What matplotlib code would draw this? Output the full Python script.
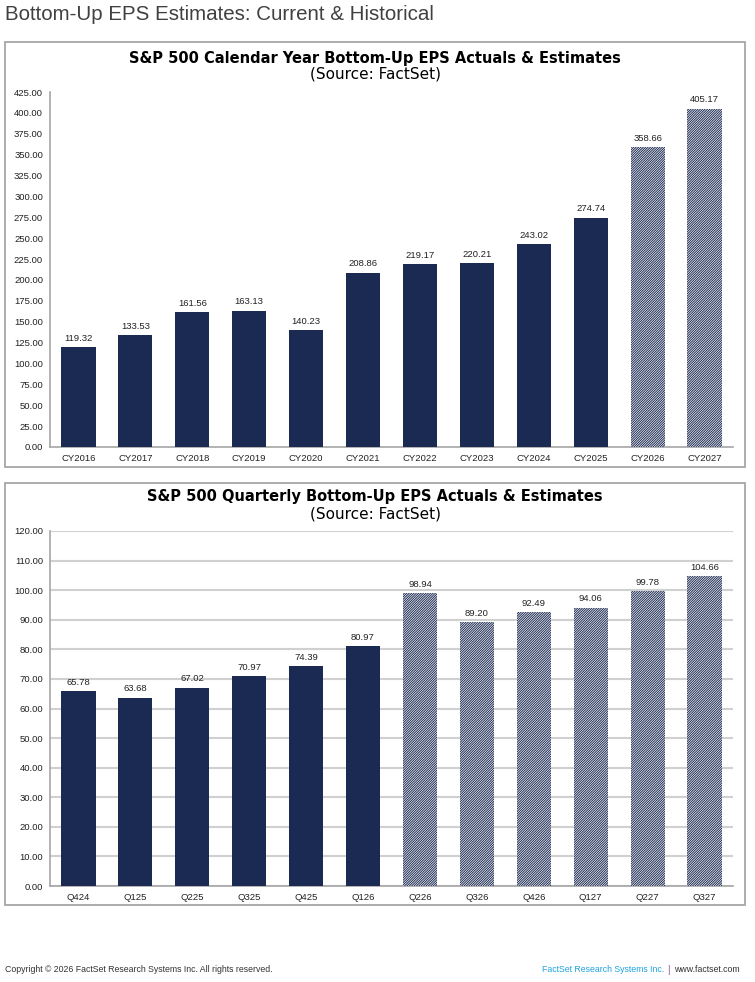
import numpy as np
import matplotlib
matplotlib.use('Agg')
import matplotlib.pyplot as plt
from matplotlib.patches import Rectangle

plt.rcParams['font.family'] = ['Liberation Sans', 'DejaVu Sans']
plt.rcParams['hatch.linewidth'] = 0.7

# annual data
cy_labels = ['CY2016', 'CY2017', 'CY2018', 'CY2019', 'CY2020', 'CY2021',
             'CY2022', 'CY2023', 'CY2024', 'CY2025', 'CY2026', 'CY2027']
cy_eps = [119.32, 133.53, 161.56, 163.13, 140.23, 208.86,
          219.17, 220.21, 243.02, 274.74, 358.66, 405.17]
cy_estimate = [False] * 10 + [True] * 2

# quarterly data
q_labels = ['Q424', 'Q125', 'Q225', 'Q325', 'Q425', 'Q126',
            'Q226', 'Q326', 'Q426', 'Q127', 'Q227', 'Q327']
q_eps = [65.78, 63.68, 67.02, 70.97, 74.39, 80.97,
         98.94, 89.20, 92.49, 94.06, 99.78, 104.66]
q_estimate = [False] * 6 + [True] * 6

navy = '#1b2a52'
gray = '#a6a6a6'

W, H = 755, 982
fig = plt.figure(figsize=(W / 100, H / 100), dpi=100)


def fx(px):
    return px / W


def fy(py):
    return 1 - py / H


def draw(ax, labels, vals, est, ymax, step, grid):
    x = np.arange(len(vals))
    for i in x:
        if est[i]:
            ax.bar(i, vals[i], width=0.6, color='white', edgecolor=navy,
                   hatch='/' * 14, linewidth=0, zorder=3)
        else:
            ax.bar(i, vals[i], width=0.6, color=navy, linewidth=0, zorder=3)
        ax.text(i, vals[i] + ymax * 0.012, '%.2f' % vals[i], ha='center',
                va='bottom', fontsize=6.8, color='#222222')
    ax.set_xlim(-0.5, len(vals) - 0.5)
    ax.set_ylim(0, ymax)
    ticks = np.arange(0, ymax + 0.001, step)
    ax.set_yticks(ticks)
    ax.set_yticklabels(['%.2f' % v for v in ticks])
    ax.set_xticks(x)
    ax.set_xticklabels(labels)
    ax.tick_params(length=0, labelsize=6.8, colors='#222222', pad=5)
    for s in ['top', 'right']:
        ax.spines[s].set_visible(False)
    for s in ['left', 'bottom']:
        ax.spines[s].set_color(gray)
        ax.spines[s].set_linewidth(1.2)
    if grid:
        ax.yaxis.grid(True, color='#d0d0d0', linewidth=1.5)
        ax.set_axisbelow(True)


# page title
fig.text(fx(5), fy(15), 'Bottom-Up EPS Estimates: Current & Historical',
         fontsize=14.8, color='#404040', ha='left', va='center')

# panel boxes
for top, bot in [(42, 467), (483, 905)]:
    fig.patches.append(Rectangle((fx(5), fy(bot)), fx(745) - fx(5), fy(top) - fy(bot),
                                 transform=fig.transFigure, fill=False,
                                 edgecolor=gray, linewidth=1.3))

title_font = ['DejaVu Sans']

ax1 = fig.add_axes([fx(50), fy(447), fx(733) - fx(50), fy(92) - fy(447)])
draw(ax1, cy_labels, cy_eps, cy_estimate, 425, 25, False)
fig.text(fx(375), fy(58), 'S&P 500 Calendar Year Bottom-Up EPS Actuals & Estimates',
         ha='center', va='center', fontsize=10.5, fontweight='bold', family=title_font)
fig.text(fx(375), fy(74), '(Source: FactSet)', ha='center', va='center',
         fontsize=11, family=title_font)

ax2 = fig.add_axes([fx(50), fy(886), fx(733) - fx(50), fy(531) - fy(886)])
draw(ax2, q_labels, q_eps, q_estimate, 120, 10, True)
fig.text(fx(375), fy(497), 'S&P 500 Quarterly Bottom-Up EPS Actuals & Estimates',
         ha='center', va='center', fontsize=10.5, fontweight='bold', family=title_font)
fig.text(fx(375), fy(514), '(Source: FactSet)', ha='center', va='center',
         fontsize=11, family=title_font)

# footer
fig.text(fx(5), fy(970), 'Copyright \u00a9 2026 FactSet Research Systems Inc. All rights reserved.',
         fontsize=6.3, color='#333333', ha='left', va='center')
fig.text(fx(664), fy(970), 'FactSet Research Systems Inc.', fontsize=6.3,
         color='#1fa3e0', ha='right', va='center')
fig.text(fx(668), fy(970), '|', fontsize=7, color='#8a4a9a', ha='center', va='center')
fig.text(fx(740), fy(970), 'www.factset.com', fontsize=6.3, color='#333333',
         ha='right', va='center')

fig.savefig('out.png', dpi=100)
